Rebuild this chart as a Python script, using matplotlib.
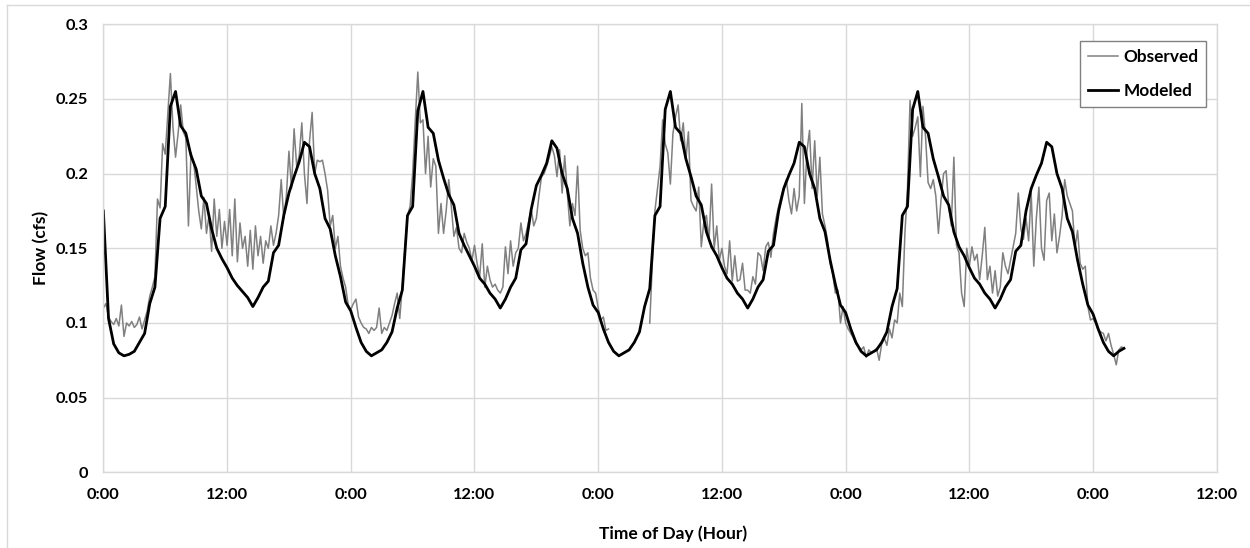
import matplotlib
matplotlib.use("Agg")

import numpy as np
import matplotlib.pyplot as plt
from matplotlib.lines import Line2D

# -------------------------------
# DATA (flow in cfs)
# -------------------------------
OBS_STEP = 0.25    # hours between observed samples
MODEL_STEP = 0.5   # hours between modeled samples

nan = float("nan")

observed_day1 = [
    0.110, 0.113, 0.104, 0.101, 0.099, 0.103, 0.098, 0.112,
    0.091, 0.100, 0.098, 0.101, 0.097, 0.099, 0.104, 0.096,
    0.102, 0.108, 0.118, 0.124, 0.131, 0.183, 0.177, 0.220,
    0.213, 0.240, 0.267, 0.231, 0.211, 0.227, 0.246, 0.228,
    0.224, 0.165, 0.214, 0.208, 0.192, 0.175, 0.163, 0.184,
    0.160, 0.172, 0.148, 0.183, 0.158, 0.176, 0.150, 0.168,
    0.152, 0.176, 0.145, 0.183, 0.141, 0.167, 0.150, 0.158,
    0.138, 0.162, 0.136, 0.165, 0.145, 0.158, 0.140, 0.155,
    0.150, 0.165, 0.152, 0.160, 0.172, 0.196, 0.170, 0.185,
    0.215, 0.190, 0.230, 0.205, 0.212, 0.234, 0.200, 0.180,
    0.222, 0.241, 0.200, 0.209, 0.208, 0.209, 0.200, 0.189,
    0.165, 0.172, 0.150, 0.158, 0.138, 0.130, 0.124, 0.112,
]
observed_day2 = [
    0.109, 0.113, 0.116, 0.104, 0.100, 0.097, 0.096, 0.093,
    0.097, 0.095, 0.097, 0.110, 0.093, 0.097, 0.095, 0.100,
    0.105, 0.113, 0.120, 0.103, 0.125, 0.150, 0.172, 0.178,
    0.200, 0.235, 0.268, 0.234, 0.236, 0.200, 0.225, 0.191,
    0.210, 0.205, 0.160, 0.180, 0.160, 0.175, 0.196, 0.178,
    0.158, 0.164, 0.150, 0.147, 0.160, 0.154, 0.150, 0.142,
    0.152, 0.140, 0.131, 0.153, 0.124, 0.138, 0.129, 0.124,
    0.126, 0.122, 0.120, 0.124, 0.151, 0.133, 0.155, 0.138,
    0.147, 0.150, 0.167, 0.155, 0.160, 0.168, 0.176, 0.165,
    0.170, 0.185, 0.198, 0.200, 0.205, 0.211, 0.218, 0.212,
    0.198, 0.216, 0.187, 0.212, 0.187, 0.165, 0.180, 0.172,
    0.205, 0.162, 0.150, 0.145, 0.147, 0.130, 0.122, 0.120,
]
observed_day3 = [
    0.110, 0.102, 0.104, 0.095, 0.096, nan, nan, nan,
    nan, nan, nan, nan, nan, nan, nan, nan,
    nan, nan, nan, nan, 0.100, 0.140, 0.175, 0.190,
    0.205, 0.236, 0.220, 0.214, 0.193, 0.227, 0.238, 0.246,
    0.222, 0.234, 0.209, 0.228, 0.182, 0.178, 0.175, 0.191,
    0.151, 0.168, 0.172, 0.155, 0.193, 0.150, 0.165, 0.142,
    0.150, 0.138, 0.133, 0.155, 0.128, 0.145, 0.128, 0.129,
    0.140, 0.122, 0.122, 0.120, 0.131, 0.126, 0.147, 0.145,
    0.135, 0.151, 0.154, 0.144, 0.160, 0.170, 0.178, 0.185,
    0.191, 0.196, 0.182, 0.173, 0.190, 0.175, 0.185, 0.247,
    0.180, 0.215, 0.229, 0.190, 0.222, 0.185, 0.211, 0.173,
    0.165, 0.155, 0.140, 0.133, 0.120, 0.122, 0.100, 0.111,
]
observed_day4 = [
    0.100, 0.096, 0.093, 0.090, 0.086, 0.084, 0.082, 0.084,
    0.077, 0.082, 0.080, 0.081, 0.083, 0.075, 0.086, 0.090,
    0.085, 0.096, 0.090, 0.102, 0.100, 0.120, 0.111, 0.160,
    0.190, 0.249, 0.225, 0.231, 0.238, 0.198, 0.245, 0.225,
    0.194, 0.190, 0.196, 0.185, 0.160, 0.182, 0.200, 0.202,
    0.178, 0.165, 0.211, 0.152, 0.147, 0.120, 0.111, 0.150,
    0.138, 0.151, 0.142, 0.146, 0.129, 0.145, 0.164, 0.129,
    0.138, 0.120, 0.135, 0.118, 0.124, 0.147, 0.138, 0.133,
    0.142, 0.151, 0.160, 0.187, 0.163, 0.156, 0.170, 0.155,
    0.187, 0.138, 0.170, 0.191, 0.150, 0.142, 0.182, 0.187,
    0.155, 0.173, 0.147, 0.158, 0.172, 0.196, 0.185, 0.180,
    0.175, 0.150, 0.162, 0.140, 0.136, 0.138, 0.111, 0.102,
]
observed_day5 = [
    0.103, 0.100, 0.095, 0.094, 0.093, 0.088, 0.093, 0.085,
    0.079, 0.072, 0.082, 0.084, 0.083,
]

modeled_day1 = [
    0.175, 0.103, 0.086, 0.080, 0.078, 0.079, 0.081, 0.087,
    0.093, 0.113, 0.124, 0.170, 0.178, 0.245, 0.255, 0.232,
    0.227, 0.212, 0.203, 0.185, 0.180, 0.163, 0.150, 0.143,
    0.137, 0.130, 0.125, 0.121, 0.117, 0.111, 0.117, 0.124,
    0.128, 0.147, 0.152, 0.172, 0.187, 0.198, 0.208, 0.221,
    0.218, 0.200, 0.190, 0.170, 0.163, 0.145, 0.131, 0.114,
]
modeled_day2 = [
    0.108, 0.097, 0.087, 0.081, 0.078, 0.080, 0.082, 0.087,
    0.094, 0.110, 0.122, 0.172, 0.178, 0.242, 0.255, 0.231,
    0.227, 0.209, 0.197, 0.186, 0.179, 0.160, 0.152, 0.145,
    0.138, 0.130, 0.126, 0.120, 0.116, 0.110, 0.116, 0.124,
    0.130, 0.149, 0.153, 0.176, 0.192, 0.199, 0.207, 0.222,
    0.217, 0.200, 0.190, 0.170, 0.160, 0.140, 0.124, 0.112,
]
modeled_day3 = [
    0.107, 0.096, 0.087, 0.081, 0.078, 0.080, 0.082, 0.087,
    0.094, 0.111, 0.123, 0.172, 0.178, 0.243, 0.255, 0.231,
    0.227, 0.210, 0.198, 0.185, 0.179, 0.161, 0.151, 0.145,
    0.137, 0.130, 0.126, 0.120, 0.116, 0.110, 0.116, 0.124,
    0.129, 0.148, 0.152, 0.175, 0.190, 0.199, 0.207, 0.221,
    0.218, 0.200, 0.190, 0.170, 0.161, 0.142, 0.126, 0.112,
]
modeled_day4 = [
    0.107, 0.096, 0.087, 0.081, 0.078, 0.080, 0.082, 0.087,
    0.094, 0.111, 0.123, 0.172, 0.178, 0.243, 0.255, 0.231,
    0.227, 0.210, 0.198, 0.185, 0.179, 0.161, 0.151, 0.145,
    0.137, 0.130, 0.126, 0.120, 0.116, 0.110, 0.116, 0.124,
    0.129, 0.148, 0.152, 0.175, 0.190, 0.199, 0.207, 0.221,
    0.218, 0.200, 0.190, 0.170, 0.161, 0.142, 0.126, 0.112,
]
modeled_day5 = [0.106, 0.096, 0.087, 0.081, 0.078, 0.081, 0.083]

x_tick_hours = [0, 12, 24, 36, 48, 60, 72, 84, 96, 108]
x_tick_labels = ["0:00", "12:00", "0:00", "12:00", "0:00",
                 "12:00", "0:00", "12:00", "0:00", "12:00"]
y_ticks = [0, 0.05, 0.1, 0.15, 0.2, 0.25, 0.3]
y_tick_labels = ["0", "0.05", "0.1", "0.15", "0.2", "0.25", "0.3"]

# -------------------------------
# STYLE
# -------------------------------
plt.rcParams["font.family"] = ["Lato", "DejaVu Sans"]
plt.rcParams["font.weight"] = "bold"
GRID = "#d9d9d9"
OBS_COLOR = "#808080"


def build_series():
    observed = np.array(observed_day1 + observed_day2 + observed_day3
                        + observed_day4 + observed_day5)
    modeled = np.array(modeled_day1 + modeled_day2 + modeled_day3
                       + modeled_day4 + modeled_day5)
    obs_hours = np.arange(len(observed)) * OBS_STEP
    model_hours = np.arange(len(modeled)) * MODEL_STEP
    return obs_hours, observed, model_hours, modeled


def plot_flow():
    obs_hours, observed, model_hours, modeled = build_series()

    fig = plt.figure(figsize=(12.5, 5.48), dpi=100)
    ax = fig.add_axes([0.0827, 0.1381, 0.8907, 0.8176])

    ax.plot(obs_hours, observed, color=OBS_COLOR, lw=1.1, label="Observed")
    ax.plot(model_hours, modeled, color="black", lw=2.0, label="Modeled")

    ax.set_xlim(0, 108)
    ax.set_ylim(0, 0.3)
    ax.set_xticks(x_tick_hours)
    ax.set_xticklabels(x_tick_labels)
    ax.set_yticks(y_ticks)
    ax.set_yticklabels(y_tick_labels)
    ax.tick_params(length=0, labelsize=11.8)
    ax.tick_params(axis="x", pad=11)
    ax.tick_params(axis="y", pad=11)

    ax.grid(True, color=GRID, lw=1.0)
    ax.set_axisbelow(True)
    for sp in ax.spines.values():
        sp.set_color(GRID)
        sp.set_linewidth(1.0)

    fig.text(673 / 1250, 1 - 534 / 548, "Time of Day (Hour)",
             ha="center", va="center", fontsize=12.5, fontweight="bold")
    fig.text(41 / 1250, 1 - 248 / 548, "Flow (cfs)", rotation=90,
             ha="center", va="center", fontsize=12.5, fontweight="bold")

    leg = ax.legend(loc="upper right", bbox_to_anchor=(0.9905, 0.962),
                    prop={"family": ["Lato", "DejaVu Sans"],
                          "weight": "bold", "size": 12.4},
                    handlelength=1.75, handletextpad=0.3,
                    labelspacing=1.05, borderpad=0.45, borderaxespad=0.0,
                    fancybox=False, framealpha=1.0, edgecolor="#808080")
    leg.get_frame().set_linewidth(1.0)

    # outer chart-area border (top and left edges visible in the crop)
    fig.add_artist(Line2D([7 / 1250, 1], [1 - 5 / 548, 1 - 5 / 548],
                          transform=fig.transFigure, color=GRID, lw=1.0))
    fig.add_artist(Line2D([7 / 1250, 7 / 1250], [0, 1 - 5 / 548],
                          transform=fig.transFigure, color=GRID, lw=1.0))

    fig.savefig("out.png", dpi=100)
    plt.close(fig)


if __name__ == "__main__":
    plot_flow()
